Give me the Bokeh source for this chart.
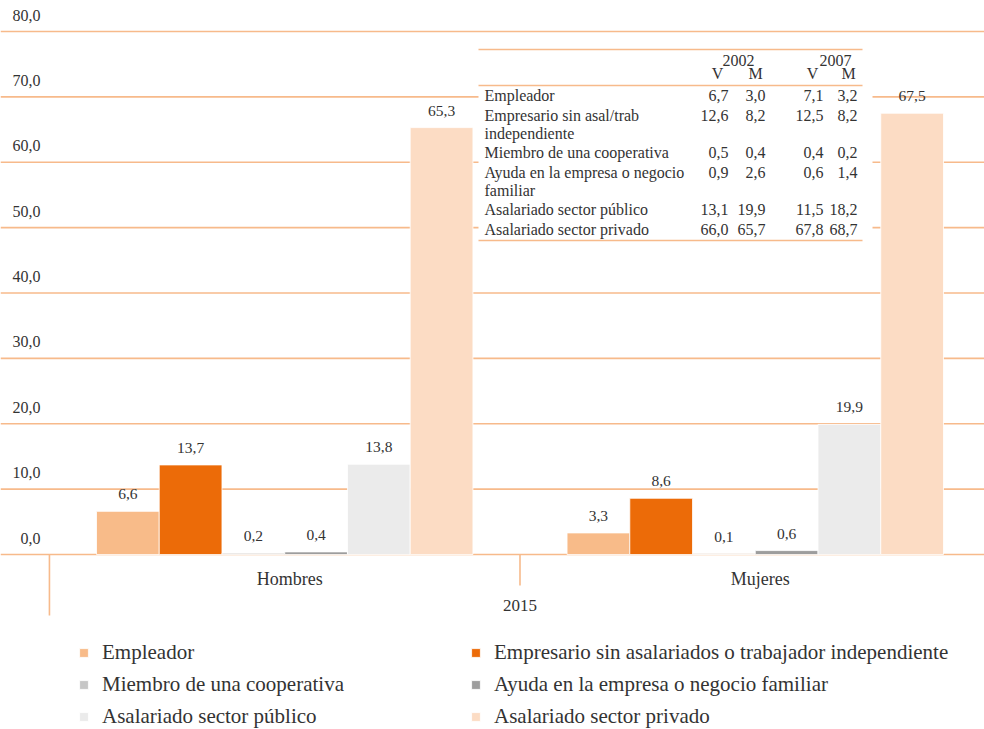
from bokeh.plotting import figure
from bokeh.models import Range1d, Legend, LegendItem
from bokeh.core.properties import value
from bokeh.embed import file_html
from bokeh.resources import INLINE

# ---------------- data ----------------
groups = ["Hombres", "Mujeres"]
outer_label = "2015"
categories = [
    "Empleador",
    "Empresario sin asalariados o trabajador independiente",
    "Miembro de una cooperativa",
    "Ayuda en la empresa o negocio familiar",
    "Asalariado sector público",
    "Asalariado sector privado",
]
hombres = [6.6, 13.7, 0.2, 0.4, 13.8, 65.3]
mujeres = [3.3, 8.6, 0.1, 0.6, 19.9, 67.5]
colors = ["#F8BB89", "#EC6B08", "#C6C6C6", "#9D9D9D", "#EBEBEB", "#FCDCC4"]
yticks = [0, 10, 20, 30, 40, 50, 60, 70, 80]

table_years = ["2002", "2007"]
table_sub = ["V", "M", "V", "M"]
table_rows = [
    "Empleador",
    "Empresario sin asal/trab\nindependiente",
    "Miembro de una cooperativa",
    "Ayuda en la empresa o negocio\nfamiliar",
    "Asalariado sector público",
    "Asalariado sector privado",
]
v2002 = [6.7, 12.6, 0.5, 0.9, 13.1, 66.0]
m2002 = [3.0, 8.2, 0.4, 2.6, 19.9, 65.7]
v2007 = [7.1, 12.5, 0.4, 0.6, 11.5, 67.8]
m2007 = [3.2, 8.2, 0.2, 1.4, 18.2, 68.7]


def fmt(v):
    return f"{v:.1f}".replace(".", ",")


# ---------------- layout ----------------
W, H = 984, 729
FONT_NAME = "Liberation Serif"
FONT = value(FONT_NAME)
TXT = "#333333"
GRID = "#F7BA8B"

UX = 62.74          # px per bar
UY = 6.5375         # px per y unit
GROUP_STEP = 7.5    # bars per group incl. gap
x_start = -0.5 - 96 / UX
x_end = x_start + W / UX
y_end = 80 + 31 / UY
y_start = y_end - H / UY


def px_x(px):
    return x_start + px / UX


def px_y(py):
    return y_end - py / UY


p = figure(width=W, height=H, x_range=Range1d(x_start, x_end), y_range=Range1d(y_start, y_end),
           output_backend="svg", toolbar_location=None, x_axis_location=None, y_axis_location=None,
           min_border=0, outline_line_color=None, background_fill_color="white",
           border_fill_color="white")
p.xgrid.visible = False
p.ygrid.visible = False

# horizontal grid lines (drawn first, so bars and the table cover them)
p.segment(x0=[x_start] * len(yticks), y0=yticks, x1=[x_end] * len(yticks), y1=yticks,
          line_color=GRID, line_width=1.6)

# y tick labels (inside frame, above grid lines)
p.text(x=[x_start] * len(yticks), y=yticks, text=[fmt(t) for t in yticks],
       x_offset=40, y_offset=-16.5, text_align="right", text_baseline="middle",
       text_font=FONT, text_font_size="16px", text_color=TXT)

# ---------------- table box ----------------
p.quad(left=[px_x(478)], right=[px_x(872)], top=[px_y(44)], bottom=[px_y(250)],
       fill_color="white", line_color=None)

# ---------------- bars ----------------
renderers = []
lab_x, lab_y, lab_t = [], [], []
for ci, (cat, col) in enumerate(zip(categories, colors)):
    xs = [gi * GROUP_STEP + ci for gi in range(len(groups))]
    vals = [hombres[ci], mujeres[ci]]
    r = p.vbar(x=xs, top=vals, bottom=0, width=1.0, fill_color=col, line_color="white",
               line_width=0.8)
    renderers.append(r)
    lab_x += xs
    lab_y += vals
    lab_t += [fmt(v) for v in vals]

p.text(x=lab_x, y=lab_y, text=lab_t, y_offset=-17, text_align="center",
       text_baseline="middle", text_font=FONT, text_font_size="15.5px", text_color=TXT)

# ---------------- category axis ----------------
n_cat = len(categories)
sep = [gi * GROUP_STEP - 1.25 for gi in range(len(groups) + 1)]
p.segment(x0=sep[:2], y0=[0, 0], x1=sep[:2], y1=[px_y(615), px_y(585)],
          line_color=GRID, line_width=1.6)
centers = [gi * GROUP_STEP + (n_cat - 1) / 2 for gi in range(len(groups))]
p.text(x=centers, y=[0] * len(groups), text=groups, x_offset=5, y_offset=24,
       text_align="center", text_baseline="middle", text_font=FONT,
       text_font_size="18px", text_color=TXT)
p.text(x=[sep[1]], y=[0], text=[outer_label], y_offset=51, text_align="center",
       text_baseline="middle", text_font=FONT, text_font_size="17px", text_color=TXT)

# ---------------- table ----------------
tl_x, tl_y = x_start, y_end  # page (0, 0)
for yy in [49, 85, 240]:
    p.segment(x0=[px_x(478)], y0=[px_y(yy)], x1=[px_x(862)], y1=[px_y(yy)],
              line_color=GRID, line_width=1.6)

tx, ty, tt, ta = [], [], [], []
year_cx = [738, 835]
for yr, cx in zip(table_years, year_cx):
    tx.append(cx); ty.append(60); tt.append(yr); ta.append("center")
sub_cx = [717, 755, 812, 848]
for s, cx in zip(table_sub, sub_cx):
    tx.append(cx); ty.append(73); tt.append(s); ta.append("center")

col_right = [728, 765, 823, 857]
base = 95
for i, lab in enumerate(table_rows):
    lines = lab.split("\n")
    for li, ln in enumerate(lines):
        tx.append(484); ty.append(base + 18 * li); tt.append(ln); ta.append("left")
    for cr, arr in zip(col_right, [v2002, m2002, v2007, m2007]):
        tx.append(cr); ty.append(base); tt.append(fmt(arr[i])); ta.append("right")
    base += 20 + 17 * (len(lines) - 1)

p.text(x=[tl_x] * len(tt), y=[tl_y] * len(tt), text=tt,
       x_offset=tx, y_offset=ty, text_align=ta,
       text_baseline="middle", text_font=FONT, text_font_size="16px", text_color=TXT)

# ---------------- legends ----------------
def make_legend(idx, loc):
    leg = Legend(items=[LegendItem(label=categories[i], renderers=[renderers[i]]) for i in idx],
                 location=loc, orientation="vertical", padding=0, margin=0, spacing=7,
                 glyph_width=11, glyph_height=11, label_height=22, label_standoff=13,
                 label_text_font=FONT_NAME, label_text_font_size="21px",
                 label_text_color=TXT, border_line_color=None, background_fill_alpha=0)
    return leg


p.add_layout(make_legend([0, 2, 4], (78, 0)))
p.add_layout(make_legend([1, 3, 5], (470, 0)))

open("out.html", "w").write(file_html(p, INLINE))
